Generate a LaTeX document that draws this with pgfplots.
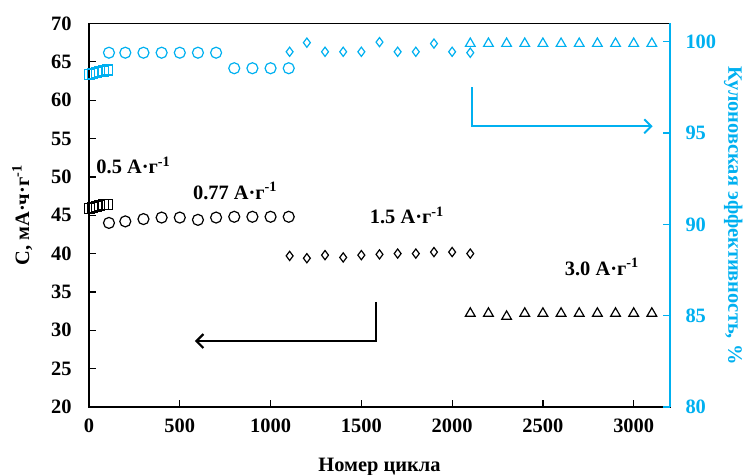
\documentclass[border=0pt]{standalone}
\usepackage{fontspec}
\setmainfont{Liberation Serif}
\usepackage{pgfplots}
\pgfplotsset{compat=1.18}
\usetikzlibrary{arrows.meta}
\definecolor{cblue}{RGB}{0,176,240}
\begin{document}
\begin{tikzpicture}
\pgfplotsset{every axis/.append style={font=\fontsize{20.5}{24}\selectfont\bfseries},
  common/.style={scale only axis, width=581bp, height=383.5bp,
    xmin=0, xmax=3200,
    tick align=inside, major tick length=7bp,
    /pgf/number format/assume math mode=true,
    /pgf/number format/set thousands separator={},
    clip=false}}
\begin{axis}[common, name=ax,
  ymin=20, ymax=70,
  xtick={0,500,...,3000}, ytick={20,25,...,70},
  xtick pos=bottom, ytick pos=left,
  axis line style={line width=1.6bp},
  tick style={line width=1.2bp, black},
  xlabel={Номер цикла}, ylabel={С, мА·ч·г\textsuperscript{-1}},
  yticklabel shift=14bp,
  xticklabel shift=8bp,
  xlabel shift=19bp,
  ylabel shift=12bp,
  every axis plot/.append style={only marks, black, mark options={line width=1.2bp, solid, fill=none}},
]
\addplot[mark=square, mark size=5bp] coordinates {(1,45.9) (20,46.0) (40,46.1) (60,46.3) (80,46.4) (100,46.4)};
\addplot[mark=o, mark size=5.5bp] coordinates {(110,44.0) (200,44.2) (300,44.5) (400,44.7) (500,44.7) (600,44.4) (700,44.7) (800,44.8) (900,44.8) (1000,44.8) (1100,44.8)};
\addplot[mark=diamond, mark size=4.6bp] coordinates {(1105,39.7) (1200,39.4) (1300,39.8) (1400,39.5) (1500,39.8) (1600,39.9) (1700,40.0) (1800,40.0) (1900,40.2) (2000,40.2) (2100,40.0)};
\addplot[mark=triangle, mark size=5.6bp] coordinates {(2100,32.2) (2200,32.2) (2300,31.8) (2400,32.2) (2500,32.2) (2600,32.2) (2700,32.2) (2800,32.2) (2900,32.2) (3000,32.2) (3100,32.2)};
\node[anchor=west, inner sep=0pt] at (axis cs:40,51.5) {0.5 А·г\textsuperscript{-1}};
\node[anchor=west, inner sep=0pt] at (axis cs:572,48.2) {0.77 А·г\textsuperscript{-1}};
\node[anchor=west, inner sep=0pt] at (axis cs:1546,45.0) {1.5 А·г\textsuperscript{-1}};
\node[anchor=west, inner sep=0pt] at (axis cs:2620,38.25) {3.0 А·г\textsuperscript{-1}};
\draw[line width=2.2bp, -{Straight Barb[length=7bp, width=14bp]}] (axis cs:1580,33.7) -- (axis cs:1580,28.6) -- (axis cs:583,28.6);
\draw[cblue, line width=1.9bp, -{Straight Barb[length=7bp, width=14bp]}] (axis cs:2108,61.7) -- (axis cs:2108,56.6) -- (axis cs:3104,56.6);
\end{axis}
\begin{axis}[common,
  ymin=80, ymax=101,
  axis x line=none, axis y line*=right,
  ytick={80,85,...,100},
  y axis line style={cblue, line width=1.6bp},
  tick style={line width=1.2bp, cblue},
  yticklabel style={cblue},
  yticklabel shift=12bp,
  ylabel={Кулоновская эффективность, \%},
  ylabel style={cblue, rotate=180},
  ylabel shift=1bp,
  every axis plot/.append style={only marks, cblue, mark options={line width=1.2bp, solid, fill=none}},
]
\addplot[mark=square, mark size=5bp] coordinates {(1,98.2) (20,98.25) (40,98.3) (60,98.35) (80,98.4) (100,98.45)};
\addplot[mark=o, mark size=5.5bp] coordinates {(110,99.4) (200,99.4) (300,99.4) (400,99.4) (500,99.4) (600,99.4) (700,99.4) (800,98.55) (900,98.55) (1000,98.55) (1100,98.55)};
\addplot[mark=diamond, mark size=4.6bp] coordinates {(1105,99.45) (1200,99.95) (1300,99.45) (1400,99.45) (1500,99.45) (1600,99.98) (1700,99.45) (1800,99.45) (1900,99.9) (2000,99.45) (2100,99.4)};
\addplot[mark=triangle, mark size=5.6bp] coordinates {(2100,99.9) (2200,99.9) (2300,99.9) (2400,99.9) (2500,99.9) (2600,99.9) (2700,99.9) (2800,99.9) (2900,99.9) (3000,99.9) (3100,99.9)};
\end{axis}
\pgfresetboundingbox
\path ([shift={(-89bp,-68bp)}]ax.south west) rectangle ([shift={(81bp,23.5bp)}]ax.north east);
\end{tikzpicture}
\end{document}
